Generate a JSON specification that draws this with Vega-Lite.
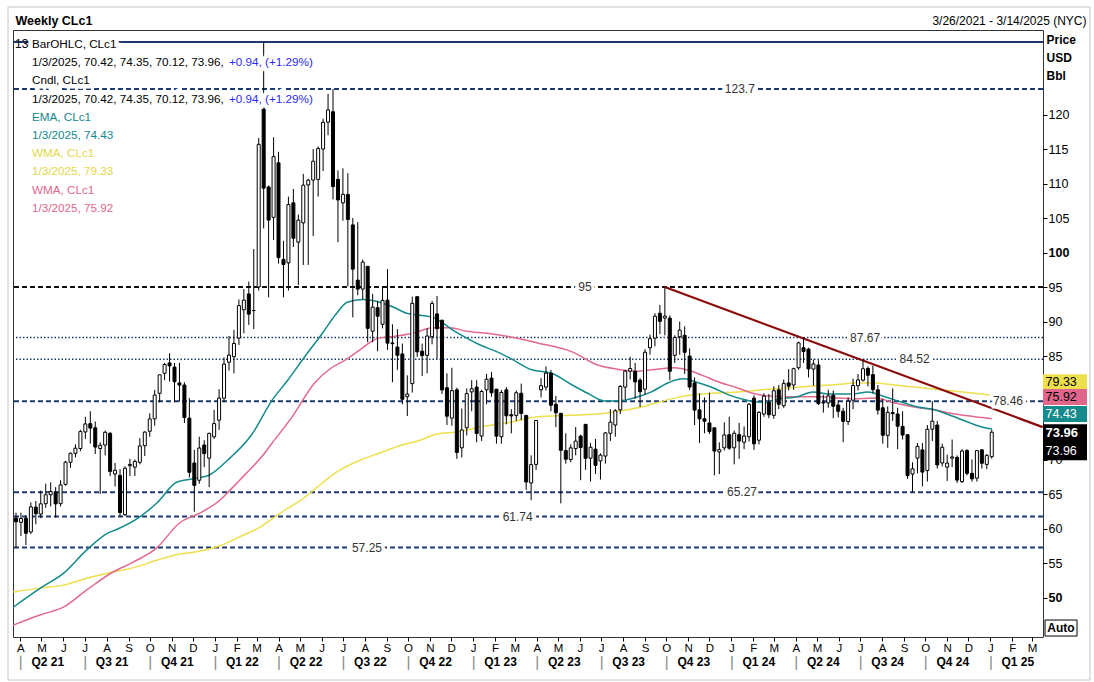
{
  "$schema": "https://vega.github.io/schema/vega-lite/v6.json",
  "width": 1030,
  "height": 607,
  "autosize": "none",
  "padding": {"left": 13, "top": 30, "right": 51, "bottom": 45},
  "background": "#ffffff",
  "config": {
    "view": {"stroke": "#333333", "strokeWidth": 1},
    "font": "Liberation Sans",
    "axis": {"labelFont": "Liberation Sans", "titleFont": "Liberation Sans", "labelColor": "#000000", "titleColor": "#000000", "grid": false, "domain": false, "labelFlush": false, "labelOverlap": false},
    "text": {"font": "Liberation Sans", "fontSize": 12}
  },
  "datasets": {
    "candles": [
      {"d":"2021-03-26","o":61.5,"h":62.3,"l":57.25,"c":60.97},
      {"d":"2021-04-02","o":60.9,"h":62.3,"l":58.9,"c":61.45},
      {"d":"2021-04-09","o":61.5,"h":61.9,"l":57.6,"c":59.32},
      {"d":"2021-04-16","o":59.5,"h":63.8,"l":59.2,"c":63.13},
      {"d":"2021-04-23","o":63.1,"h":64.0,"l":60.6,"c":62.14},
      {"d":"2021-04-30","o":62.1,"h":65.5,"l":61.5,"c":63.58},
      {"d":"2021-05-07","o":63.6,"h":66.5,"l":63.0,"c":64.90},
      {"d":"2021-05-14","o":64.9,"h":66.7,"l":63.2,"c":65.37},
      {"d":"2021-05-21","o":65.3,"h":66.0,"l":61.6,"c":63.58},
      {"d":"2021-05-28","o":63.6,"h":67.0,"l":63.2,"c":66.32},
      {"d":"2021-06-04","o":66.4,"h":69.8,"l":66.2,"c":69.62},
      {"d":"2021-06-11","o":69.6,"h":71.0,"l":68.8,"c":70.91},
      {"d":"2021-06-18","o":70.9,"h":72.2,"l":70.3,"c":71.64},
      {"d":"2021-06-25","o":71.6,"h":74.3,"l":71.2,"c":74.05},
      {"d":"2021-07-02","o":74.0,"h":76.2,"l":73.0,"c":75.16},
      {"d":"2021-07-09","o":75.2,"h":77.0,"l":72.3,"c":74.56},
      {"d":"2021-07-16","o":74.6,"h":75.5,"l":70.8,"c":71.81},
      {"d":"2021-07-23","o":71.6,"h":72.5,"l":65.0,"c":72.07},
      {"d":"2021-07-30","o":72.1,"h":74.2,"l":70.6,"c":73.95},
      {"d":"2021-08-06","o":73.8,"h":74.0,"l":67.6,"c":68.28},
      {"d":"2021-08-13","o":67.9,"h":69.5,"l":66.1,"c":68.44},
      {"d":"2021-08-20","o":67.7,"h":68.6,"l":61.74,"c":62.32},
      {"d":"2021-08-27","o":62.0,"h":69.0,"l":61.8,"c":68.74},
      {"d":"2021-09-03","o":69.1,"h":70.1,"l":67.6,"c":69.29},
      {"d":"2021-09-10","o":68.9,"h":70.0,"l":67.6,"c":69.72},
      {"d":"2021-09-17","o":69.6,"h":73.1,"l":69.3,"c":71.97},
      {"d":"2021-09-24","o":72.0,"h":74.1,"l":70.5,"c":73.98},
      {"d":"2021-10-01","o":74.1,"h":76.7,"l":73.3,"c":75.88},
      {"d":"2021-10-08","o":75.9,"h":80.1,"l":74.9,"c":79.35},
      {"d":"2021-10-15","o":79.6,"h":82.2,"l":78.3,"c":82.28},
      {"d":"2021-10-22","o":82.5,"h":84.0,"l":81.5,"c":83.76},
      {"d":"2021-10-29","o":84.0,"h":85.4,"l":81.3,"c":83.57},
      {"d":"2021-11-05","o":83.4,"h":84.0,"l":78.3,"c":81.27},
      {"d":"2021-11-12","o":81.1,"h":84.0,"l":78.4,"c":80.79},
      {"d":"2021-11-19","o":80.8,"h":81.2,"l":75.3,"c":76.10},
      {"d":"2021-11-26","o":76.0,"h":78.9,"l":67.4,"c":68.15},
      {"d":"2021-12-03","o":69.5,"h":71.4,"l":62.43,"c":66.26},
      {"d":"2021-12-10","o":67.0,"h":73.3,"l":66.5,"c":71.67},
      {"d":"2021-12-17","o":72.1,"h":72.8,"l":68.9,"c":70.86},
      {"d":"2021-12-24","o":70.2,"h":73.9,"l":66.0,"c":73.79},
      {"d":"2021-12-31","o":73.3,"h":77.2,"l":73.0,"c":75.21},
      {"d":"2022-01-07","o":75.7,"h":80.2,"l":74.3,"c":78.90},
      {"d":"2022-01-14","o":78.9,"h":84.8,"l":78.3,"c":83.82},
      {"d":"2022-01-21","o":84.1,"h":87.9,"l":82.9,"c":85.14},
      {"d":"2022-01-28","o":84.9,"h":88.8,"l":82.5,"c":86.82},
      {"d":"2022-02-04","o":87.6,"h":93.2,"l":86.6,"c":92.31},
      {"d":"2022-02-11","o":91.7,"h":94.7,"l":88.3,"c":93.10},
      {"d":"2022-02-18","o":94.0,"h":95.8,"l":89.5,"c":91.07},
      {"d":"2022-02-25","o":91.6,"h":100.5,"l":88.9,"c":91.59},
      {"d":"2022-03-04","o":95.0,"h":116.6,"l":94.5,"c":115.68},
      {"d":"2022-03-11","o":121.0,"h":130.5,"l":103.5,"c":109.33},
      {"d":"2022-03-18","o":109.5,"h":109.7,"l":93.5,"c":104.70},
      {"d":"2022-03-25","o":105.1,"h":116.7,"l":101.8,"c":113.90},
      {"d":"2022-04-01","o":113.0,"h":114.6,"l":98.4,"c":99.27},
      {"d":"2022-04-08","o":99.0,"h":101.7,"l":93.5,"c":98.26},
      {"d":"2022-04-15","o":98.5,"h":108.1,"l":94.5,"c":106.95},
      {"d":"2022-04-22","o":107.2,"h":109.2,"l":100.8,"c":102.07},
      {"d":"2022-04-29","o":101.5,"h":105.5,"l":95.3,"c":104.69},
      {"d":"2022-05-06","o":104.3,"h":111.4,"l":98.2,"c":109.77},
      {"d":"2022-05-13","o":109.8,"h":110.7,"l":98.2,"c":110.49},
      {"d":"2022-05-20","o":110.5,"h":115.0,"l":102.4,"c":113.23},
      {"d":"2022-05-27","o":110.6,"h":115.4,"l":108.1,"c":115.07},
      {"d":"2022-06-03","o":115.0,"h":119.4,"l":111.8,"c":118.87},
      {"d":"2022-06-10","o":118.9,"h":123.0,"l":117.0,"c":120.67},
      {"d":"2022-06-17","o":120.4,"h":123.68,"l":107.7,"c":109.56},
      {"d":"2022-06-24","o":110.6,"h":111.9,"l":101.5,"c":107.62},
      {"d":"2022-07-01","o":107.2,"h":112.2,"l":104.6,"c":108.43},
      {"d":"2022-07-08","o":108.4,"h":111.5,"l":95.1,"c":104.79},
      {"d":"2022-07-15","o":104.0,"h":105.0,"l":90.6,"c":97.59},
      {"d":"2022-07-22","o":96.0,"h":104.4,"l":93.8,"c":94.70},
      {"d":"2022-07-29","o":94.7,"h":99.0,"l":93.2,"c":98.62},
      {"d":"2022-08-05","o":98.0,"h":98.0,"l":87.0,"c":89.01},
      {"d":"2022-08-12","o":88.6,"h":94.0,"l":87.0,"c":92.09},
      {"d":"2022-08-19","o":92.0,"h":93.0,"l":85.7,"c":90.77},
      {"d":"2022-08-26","o":89.6,"h":95.0,"l":89.0,"c":93.06},
      {"d":"2022-09-02","o":93.1,"h":97.6,"l":85.9,"c":86.87},
      {"d":"2022-09-09","o":86.9,"h":89.6,"l":81.2,"c":86.79},
      {"d":"2022-09-16","o":86.3,"h":88.9,"l":83.0,"c":85.11},
      {"d":"2022-09-23","o":85.3,"h":86.8,"l":78.0,"c":78.74},
      {"d":"2022-09-30","o":79.1,"h":82.2,"l":76.3,"c":79.49},
      {"d":"2022-10-07","o":81.0,"h":93.6,"l":79.7,"c":92.64},
      {"d":"2022-10-14","o":93.6,"h":93.6,"l":84.9,"c":85.61},
      {"d":"2022-10-21","o":85.7,"h":86.8,"l":82.1,"c":85.05},
      {"d":"2022-10-28","o":85.1,"h":89.0,"l":82.5,"c":87.90},
      {"d":"2022-11-04","o":87.8,"h":93.0,"l":86.7,"c":92.61},
      {"d":"2022-11-11","o":91.1,"h":93.7,"l":84.6,"c":88.96},
      {"d":"2022-11-18","o":90.2,"h":90.2,"l":79.5,"c":80.08},
      {"d":"2022-11-25","o":80.4,"h":82.5,"l":75.0,"c":76.28},
      {"d":"2022-12-02","o":76.0,"h":83.3,"l":74.9,"c":79.98},
      {"d":"2022-12-09","o":80.1,"h":80.4,"l":70.1,"c":71.02},
      {"d":"2022-12-16","o":71.7,"h":77.4,"l":70.3,"c":74.29},
      {"d":"2022-12-23","o":74.6,"h":80.3,"l":73.5,"c":79.56},
      {"d":"2022-12-30","o":79.8,"h":81.5,"l":77.0,"c":80.26},
      {"d":"2023-01-06","o":80.5,"h":81.5,"l":72.5,"c":73.77},
      {"d":"2023-01-13","o":73.4,"h":80.1,"l":72.7,"c":79.86},
      {"d":"2023-01-20","o":80.1,"h":82.4,"l":78.0,"c":81.64},
      {"d":"2023-01-27","o":81.8,"h":82.7,"l":79.1,"c":79.68},
      {"d":"2023-02-03","o":80.2,"h":80.2,"l":72.3,"c":73.39},
      {"d":"2023-02-10","o":73.3,"h":80.1,"l":72.3,"c":79.72},
      {"d":"2023-02-17","o":80.1,"h":80.5,"l":75.1,"c":76.34},
      {"d":"2023-02-24","o":76.5,"h":77.3,"l":73.8,"c":76.32},
      {"d":"2023-03-03","o":76.4,"h":80.0,"l":75.6,"c":79.68},
      {"d":"2023-03-10","o":79.6,"h":81.0,"l":75.7,"c":76.68},
      {"d":"2023-03-17","o":76.4,"h":76.4,"l":65.6,"c":66.74},
      {"d":"2023-03-24","o":66.6,"h":70.6,"l":64.1,"c":69.26},
      {"d":"2023-03-31","o":69.3,"h":75.7,"l":68.5,"c":75.67},
      {"d":"2023-04-07","o":80.1,"h":81.8,"l":79.0,"c":80.70},
      {"d":"2023-04-14","o":80.5,"h":83.5,"l":80.0,"c":82.52},
      {"d":"2023-04-21","o":82.5,"h":83.0,"l":77.0,"c":77.87},
      {"d":"2023-04-28","o":78.0,"h":79.2,"l":74.7,"c":76.78},
      {"d":"2023-05-05","o":76.7,"h":76.7,"l":63.64,"c":71.34},
      {"d":"2023-05-12","o":71.3,"h":73.8,"l":69.4,"c":70.04},
      {"d":"2023-05-19","o":70.0,"h":72.2,"l":69.6,"c":71.69},
      {"d":"2023-05-26","o":71.6,"h":74.7,"l":70.6,"c":72.67},
      {"d":"2023-06-02","o":73.4,"h":73.6,"l":67.0,"c":71.74},
      {"d":"2023-06-09","o":75.1,"h":75.1,"l":68.5,"c":70.17},
      {"d":"2023-06-16","o":70.2,"h":72.4,"l":66.8,"c":71.78},
      {"d":"2023-06-23","o":71.5,"h":73.0,"l":67.9,"c":69.16},
      {"d":"2023-06-30","o":69.8,"h":70.9,"l":67.1,"c":70.64},
      {"d":"2023-07-07","o":70.5,"h":74.0,"l":69.4,"c":73.86},
      {"d":"2023-07-14","o":73.8,"h":77.3,"l":72.7,"c":75.42},
      {"d":"2023-07-21","o":75.0,"h":77.3,"l":73.3,"c":77.07},
      {"d":"2023-07-28","o":77.2,"h":80.8,"l":76.6,"c":80.58},
      {"d":"2023-08-04","o":80.5,"h":83.0,"l":78.7,"c":82.82},
      {"d":"2023-08-11","o":82.8,"h":84.9,"l":81.6,"c":83.19},
      {"d":"2023-08-18","o":82.8,"h":84.0,"l":78.8,"c":81.25},
      {"d":"2023-08-25","o":81.5,"h":81.8,"l":77.6,"c":79.83},
      {"d":"2023-09-01","o":80.2,"h":86.0,"l":79.4,"c":85.55},
      {"d":"2023-09-08","o":86.2,"h":88.1,"l":85.2,"c":87.51},
      {"d":"2023-09-15","o":87.6,"h":91.2,"l":86.4,"c":90.77},
      {"d":"2023-09-22","o":91.2,"h":92.4,"l":88.2,"c":90.03},
      {"d":"2023-09-29","o":90.5,"h":95.03,"l":88.0,"c":90.79},
      {"d":"2023-10-06","o":90.5,"h":90.9,"l":81.5,"c":82.79},
      {"d":"2023-10-13","o":85.1,"h":88.0,"l":84.0,"c":87.69},
      {"d":"2023-10-20","o":87.8,"h":90.0,"l":85.2,"c":88.75},
      {"d":"2023-10-27","o":88.0,"h":89.3,"l":82.4,"c":85.54},
      {"d":"2023-11-03","o":85.0,"h":86.1,"l":80.1,"c":80.51},
      {"d":"2023-11-10","o":81.1,"h":81.9,"l":75.0,"c":77.17},
      {"d":"2023-11-17","o":77.2,"h":79.6,"l":72.4,"c":75.89},
      {"d":"2023-11-24","o":75.9,"h":79.0,"l":73.8,"c":75.54},
      {"d":"2023-12-01","o":75.3,"h":79.7,"l":73.7,"c":74.07},
      {"d":"2023-12-08","o":74.6,"h":74.6,"l":67.71,"c":71.23},
      {"d":"2023-12-15","o":71.1,"h":72.5,"l":67.9,"c":71.43},
      {"d":"2023-12-22","o":71.7,"h":75.4,"l":71.3,"c":73.56},
      {"d":"2023-12-29","o":73.6,"h":76.2,"l":71.4,"c":71.65},
      {"d":"2024-01-05","o":71.7,"h":74.2,"l":69.3,"c":73.81},
      {"d":"2024-01-12","o":73.6,"h":75.3,"l":70.1,"c":72.68},
      {"d":"2024-01-19","o":72.5,"h":74.8,"l":71.5,"c":73.41},
      {"d":"2024-01-26","o":73.3,"h":78.2,"l":72.6,"c":78.01},
      {"d":"2024-02-02","o":78.9,"h":79.3,"l":71.4,"c":72.28},
      {"d":"2024-02-09","o":72.8,"h":77.0,"l":72.2,"c":76.84},
      {"d":"2024-02-16","o":76.6,"h":79.6,"l":76.2,"c":79.19},
      {"d":"2024-02-23","o":78.3,"h":79.5,"l":76.0,"c":76.49},
      {"d":"2024-03-01","o":76.4,"h":80.6,"l":75.9,"c":79.97},
      {"d":"2024-03-08","o":80.1,"h":80.8,"l":77.3,"c":78.01},
      {"d":"2024-03-15","o":77.8,"h":81.6,"l":77.5,"c":81.04},
      {"d":"2024-03-22","o":81.1,"h":83.1,"l":80.0,"c":80.63},
      {"d":"2024-03-29","o":80.8,"h":83.3,"l":80.1,"c":83.17},
      {"d":"2024-04-05","o":83.3,"h":87.1,"l":83.0,"c":86.91},
      {"d":"2024-04-12","o":86.2,"h":87.67,"l":84.0,"c":85.66},
      {"d":"2024-04-19","o":86.0,"h":86.2,"l":81.9,"c":83.14},
      {"d":"2024-04-26","o":83.1,"h":84.5,"l":80.7,"c":83.85},
      {"d":"2024-05-03","o":83.7,"h":84.4,"l":77.9,"c":78.11},
      {"d":"2024-05-10","o":78.2,"h":79.4,"l":76.8,"c":78.26},
      {"d":"2024-05-17","o":78.2,"h":80.1,"l":77.5,"c":79.23},
      {"d":"2024-05-24","o":79.3,"h":80.0,"l":76.0,"c":77.72},
      {"d":"2024-05-31","o":77.9,"h":78.6,"l":76.1,"c":76.99},
      {"d":"2024-06-07","o":77.0,"h":77.5,"l":72.5,"c":75.53},
      {"d":"2024-06-14","o":75.5,"h":79.0,"l":75.0,"c":78.45},
      {"d":"2024-06-21","o":78.6,"h":81.7,"l":77.3,"c":80.73},
      {"d":"2024-06-28","o":80.7,"h":82.4,"l":80.0,"c":81.54},
      {"d":"2024-07-05","o":81.5,"h":84.52,"l":81.3,"c":83.16},
      {"d":"2024-07-12","o":83.2,"h":83.5,"l":80.6,"c":82.21},
      {"d":"2024-07-19","o":82.3,"h":83.6,"l":79.6,"c":80.13},
      {"d":"2024-07-26","o":80.1,"h":80.8,"l":76.5,"c":77.16},
      {"d":"2024-08-02","o":77.5,"h":78.8,"l":72.3,"c":73.52},
      {"d":"2024-08-09","o":73.5,"h":77.7,"l":71.7,"c":76.84},
      {"d":"2024-08-16","o":76.8,"h":80.3,"l":75.6,"c":76.65},
      {"d":"2024-08-23","o":76.6,"h":77.5,"l":71.5,"c":74.83},
      {"d":"2024-08-30","o":74.8,"h":77.0,"l":72.9,"c":73.55},
      {"d":"2024-09-06","o":73.6,"h":73.6,"l":67.2,"c":67.67},
      {"d":"2024-09-13","o":67.9,"h":69.6,"l":65.27,"c":68.65},
      {"d":"2024-09-20","o":70.2,"h":72.4,"l":68.0,"c":71.92},
      {"d":"2024-09-27","o":71.4,"h":72.4,"l":66.1,"c":68.18},
      {"d":"2024-10-04","o":68.4,"h":75.0,"l":66.8,"c":74.38},
      {"d":"2024-10-11","o":74.4,"h":78.46,"l":72.7,"c":75.56},
      {"d":"2024-10-18","o":75.0,"h":75.6,"l":68.7,"c":69.22},
      {"d":"2024-10-25","o":69.5,"h":72.3,"l":69.0,"c":71.78},
      {"d":"2024-11-01","o":68.9,"h":70.7,"l":66.9,"c":69.49},
      {"d":"2024-11-08","o":70.2,"h":72.9,"l":68.9,"c":70.38},
      {"d":"2024-11-15","o":70.3,"h":70.6,"l":66.6,"c":67.02},
      {"d":"2024-11-22","o":66.8,"h":71.5,"l":66.6,"c":71.24},
      {"d":"2024-11-29","o":71.3,"h":71.5,"l":67.7,"c":68.00},
      {"d":"2024-12-06","o":68.0,"h":70.0,"l":66.8,"c":67.20},
      {"d":"2024-12-13","o":67.3,"h":71.4,"l":66.8,"c":71.29},
      {"d":"2024-12-20","o":71.4,"h":71.5,"l":68.7,"c":69.46},
      {"d":"2024-12-27","o":69.3,"h":70.8,"l":68.6,"c":70.60},
      {"d":"2025-01-03","o":70.42,"h":74.35,"l":70.12,"c":73.96}
    ],
    "ema": [
      {"d":"2021-03-22","v":48.6},{"d":"2021-04-30","v":51.4},{"d":"2021-06-01","v":53.5},{"d":"2021-07-04","v":56.9},{"d":"2021-08-02","v":59.3},{"d":"2021-08-16","v":59.9},{"d":"2021-09-17","v":61.7},{"d":"2021-10-11","v":63.7},{"d":"2021-11-08","v":66.7},{"d":"2021-12-01","v":67.2},{"d":"2021-12-25","v":67.8},{"d":"2022-01-19","v":69.9},{"d":"2022-02-22","v":73.6},{"d":"2022-03-23","v":78.6},{"d":"2022-04-14","v":81.5},{"d":"2022-05-08","v":84.9},{"d":"2022-06-02","v":88.3},{"d":"2022-06-20","v":90.9},{"d":"2022-07-07","v":92.8},{"d":"2022-07-29","v":93.2},{"d":"2022-08-22","v":92.8},{"d":"2022-09-10","v":92.1},{"d":"2022-09-29","v":91.2},{"d":"2022-10-18","v":90.9},{"d":"2022-11-05","v":90.6},{"d":"2022-11-19","v":89.8},{"d":"2022-12-03","v":88.8},{"d":"2022-12-23","v":87.6},{"d":"2023-01-11","v":86.6},{"d":"2023-02-04","v":85.6},{"d":"2023-02-22","v":84.7},{"d":"2023-03-25","v":83.0},{"d":"2023-04-22","v":82.5},{"d":"2023-05-21","v":80.8},{"d":"2023-06-12","v":79.6},{"d":"2023-07-06","v":78.5},{"d":"2023-07-24","v":78.5},{"d":"2023-08-22","v":79.1},{"d":"2023-09-10","v":79.8},{"d":"2023-09-29","v":80.9},{"d":"2023-10-13","v":81.5},{"d":"2023-10-27","v":81.7},{"d":"2023-11-13","v":81.2},{"d":"2023-12-06","v":80.4},{"d":"2023-12-30","v":79.3},{"d":"2024-01-23","v":78.6},{"d":"2024-02-14","v":78.3},{"d":"2024-03-09","v":78.8},{"d":"2024-04-03","v":79.1},{"d":"2024-04-25","v":79.8},{"d":"2024-05-19","v":79.5},{"d":"2024-06-20","v":79.5},{"d":"2024-07-12","v":79.8},{"d":"2024-08-05","v":79.1},{"d":"2024-08-29","v":78.3},{"d":"2024-09-21","v":77.6},{"d":"2024-10-14","v":77.2},{"d":"2024-11-08","v":76.3},{"d":"2024-12-01","v":75.4},{"d":"2024-12-20","v":74.7},{"d":"2025-01-03","v":74.43}
    ],
    "wmaPink": [
      {"d":"2021-03-22","v":46.0},{"d":"2021-04-30","v":47.5},{"d":"2021-06-01","v":48.6},{"d":"2021-07-04","v":51.1},{"d":"2021-08-10","v":53.7},{"d":"2021-09-07","v":55.1},{"d":"2021-10-11","v":57.2},{"d":"2021-11-12","v":60.8},{"d":"2021-12-10","v":62.2},{"d":"2022-01-08","v":64.1},{"d":"2022-01-19","v":65.2},{"d":"2022-02-05","v":67.0},{"d":"2022-02-22","v":68.8},{"d":"2022-03-09","v":70.5},{"d":"2022-03-23","v":72.4},{"d":"2022-04-19","v":76.0},{"d":"2022-05-22","v":81.1},{"d":"2022-06-15","v":83.3},{"d":"2022-07-04","v":84.4},{"d":"2022-07-25","v":85.9},{"d":"2022-08-18","v":87.5},{"d":"2022-09-15","v":87.9},{"d":"2022-10-08","v":88.3},{"d":"2022-11-05","v":89.1},{"d":"2022-11-29","v":89.1},{"d":"2022-12-23","v":88.6},{"d":"2023-01-21","v":88.3},{"d":"2023-02-22","v":87.8},{"d":"2023-04-02","v":86.9},{"d":"2023-05-21","v":85.6},{"d":"2023-06-26","v":83.7},{"d":"2023-07-24","v":83.1},{"d":"2023-08-22","v":82.8},{"d":"2023-09-18","v":83.1},{"d":"2023-10-13","v":83.3},{"d":"2023-10-30","v":83.0},{"d":"2023-11-21","v":82.2},{"d":"2023-12-15","v":81.2},{"d":"2024-01-09","v":80.4},{"d":"2024-01-31","v":79.6},{"d":"2024-02-24","v":79.2},{"d":"2024-03-20","v":79.1},{"d":"2024-04-11","v":79.1},{"d":"2024-05-05","v":79.1},{"d":"2024-06-02","v":78.9},{"d":"2024-06-23","v":78.8},{"d":"2024-07-21","v":78.9},{"d":"2024-08-19","v":78.2},{"d":"2024-09-16","v":77.6},{"d":"2024-10-14","v":77.2},{"d":"2024-11-12","v":76.6},{"d":"2024-12-10","v":76.2},{"d":"2025-01-03","v":75.92}
    ],
    "wmaYellow": [
      {"d":"2021-03-22","v":50.8},{"d":"2021-04-30","v":51.4},{"d":"2021-06-01","v":51.8},{"d":"2021-07-04","v":52.8},{"d":"2021-08-06","v":53.6},{"d":"2021-09-07","v":54.3},{"d":"2021-10-11","v":55.4},{"d":"2021-11-12","v":56.3},{"d":"2021-12-10","v":56.7},{"d":"2022-01-08","v":57.5},{"d":"2022-02-05","v":58.8},{"d":"2022-03-06","v":60.2},{"d":"2022-04-03","v":62.2},{"d":"2022-05-01","v":64.0},{"d":"2022-06-27","v":68.5},{"d":"2022-07-25","v":69.9},{"d":"2022-08-26","v":71.1},{"d":"2022-09-19","v":72.0},{"d":"2022-10-18","v":72.8},{"d":"2022-11-11","v":73.7},{"d":"2022-12-09","v":74.0},{"d":"2023-01-11","v":74.7},{"d":"2023-02-22","v":75.4},{"d":"2023-04-02","v":76.2},{"d":"2023-05-21","v":76.4},{"d":"2023-07-06","v":76.7},{"d":"2023-08-22","v":77.5},{"d":"2023-10-13","v":78.9},{"d":"2023-11-03","v":79.3},{"d":"2023-12-02","v":79.6},{"d":"2024-01-09","v":79.8},{"d":"2024-02-14","v":80.1},{"d":"2024-03-24","v":80.4},{"d":"2024-05-01","v":80.7},{"d":"2024-06-02","v":80.9},{"d":"2024-06-23","v":81.1},{"d":"2024-07-21","v":81.1},{"d":"2024-08-19","v":80.8},{"d":"2024-09-16","v":80.5},{"d":"2024-10-14","v":80.2},{"d":"2024-11-12","v":79.9},{"d":"2024-12-10","v":79.6},{"d":"2025-01-03","v":79.33}
    ],
    "trend": [
      {"d":"2023-09-28","v":95.03},{"d":"2025-03-16","v":74.7}
    ],
    "levels": [
      {"level":130.5,"kind":"solid"},
      {"level":123.7,"kind":"dash","label":"123.7","at":"2024-01-13"},
      {"level":95,"kind":"black","label":"95","at":"2023-06-08"},
      {"level":87.67,"kind":"dot","label":"87.67","at":"2024-07-08"},
      {"level":84.52,"kind":"dot","label":"84.52","at":"2024-09-16"},
      {"level":78.46,"kind":"dash","label":"78.46","at":"2025-01-26"},
      {"level":65.27,"kind":"dash","label":"65.27","at":"2024-01-16"},
      {"level":61.74,"kind":"dash","label":"61.74","at":"2023-03-05"},
      {"level":57.25,"kind":"dash","label":"57.25","at":"2022-08-04"}
    ],
    "tags": [
      {"s":"wy","v":79.33},{"s":"wp","v":75.92},{"s":"ema","v":74.43},{"s":"bar","v":73.96},{"s":"cndl","v":73.96}
    ],
    "legend": [
      {"line":1,"part":"a","grp":"k","text":"BarOHLC, CLc1"},
      {"line":2,"part":"a","grp":"k","text":"1/3/2025, 70.42, 74.35, 70.12, 73.96,"},
      {"line":2,"part":"b","grp":"b","text":"+0.94, (+1.29%)"},
      {"line":3,"part":"a","grp":"k","text":"Cndl, CLc1"},
      {"line":4,"part":"a","grp":"k","text":"1/3/2025, 70.42, 74.35, 70.12, 73.96,"},
      {"line":4,"part":"b","grp":"b","text":"+0.94, (+1.29%)"},
      {"line":5,"part":"a","grp":"ema","text":"EMA, CLc1"},
      {"line":6,"part":"a","grp":"ema","text":"1/3/2025, 74.43"},
      {"line":7,"part":"a","grp":"wy","text":"WMA, CLc1"},
      {"line":8,"part":"a","grp":"wy","text":"1/3/2025, 79.33"},
      {"line":9,"part":"a","grp":"wp","text":"WMA, CLc1"},
      {"line":10,"part":"a","grp":"wp","text":"1/3/2025, 75.92"}
    ]
  },
  "layer": [
    {
      "data": {"values": [{}]},
      "mark": {"type": "rect", "filled": false, "stroke": "#c4c4c4", "strokeWidth": 1, "clip": false},
      "encoding": {
        "x": {"datum": 1615739067960, "type": "temporal", "axis": null},
        "x2": {"datum": 1747858201416},
        "y": {"datum": 135.58, "type": "quantitative"},
        "y2": {"datum": 38.04}
      }
    },
    {
      "data": {"name": "levels"},
      "transform": [{"filter": "datum.kind == 'solid'"}],
      "mark": {"type": "rule", "stroke": "#1c3a70", "strokeWidth": 2},
      "encoding": {"y": {"field": "level", "type": "quantitative"}}
    },
    {
      "data": {"name": "levels"},
      "transform": [{"filter": "datum.kind == 'dash'"}],
      "mark": {"type": "rule", "stroke": "#1c3a70", "strokeWidth": 2, "strokeDash": [5, 3]},
      "encoding": {"y": {"field": "level", "type": "quantitative"}}
    },
    {
      "data": {"name": "levels"},
      "transform": [{"filter": "datum.kind == 'black'"}],
      "mark": {"type": "rule", "stroke": "#111111", "strokeWidth": 2, "strokeDash": [5, 3]},
      "encoding": {"y": {"field": "level", "type": "quantitative"}}
    },
    {
      "data": {"name": "levels"},
      "transform": [{"filter": "datum.kind == 'dot'"}],
      "mark": {"type": "rule", "stroke": "#1c3a70", "strokeWidth": 1.5, "strokeDash": [1.5, 2]},
      "encoding": {"y": {"field": "level", "type": "quantitative"}}
    },
    {
      "data": {"name": "wmaYellow"},
      "mark": {"type": "line", "stroke": "#ece04c", "strokeWidth": 1.5, "interpolate": "monotone", "clip": true},
      "encoding": {
        "x": {"field": "d", "type": "temporal", "axis": {"orient": "top", "labels": false, "ticks": false, "domain": false, "title": "3/26/2021 - 3/14/2025 (NYC)", "titleX": 1073, "titleY": -10, "titleAlign": "right", "titleBaseline": "middle", "titleFontWeight": "normal", "titleFontSize": 12, "titleAnchor": "end"}},
        "y": {"field": "v", "type": "quantitative"}
      }
    },
    {
      "data": {"name": "wmaPink"},
      "mark": {"type": "line", "stroke": "#e3698d", "strokeWidth": 1.5, "interpolate": "monotone", "clip": true},
      "encoding": {
        "x": {"field": "d", "type": "temporal", "axis": {"orient": "top", "labels": false, "ticks": false, "domain": false, "title": "Weekly CLc1", "titleX": 2, "titleY": -10, "titleAlign": "left", "titleBaseline": "middle", "titleFontWeight": "bold", "titleFontSize": 12.5, "titleAnchor": "start"}},
        "y": {"field": "v", "type": "quantitative"}
      }
    },
    {
      "data": {"name": "ema"},
      "mark": {"type": "line", "stroke": "#138a8c", "strokeWidth": 1.5, "interpolate": "monotone", "clip": true},
      "encoding": {
        "x": {"field": "d", "type": "temporal", "axis": {"orient": "bottom", "tickCount": {"interval": "month", "step": 3}, "labelExpr": "'|'", "ticks": false, "tickSize": 0, "labelPadding": 17, "labelFontSize": 15, "labelColor": "#888888", "title": null, "domain": false}},
        "y": {"field": "v", "type": "quantitative"}
      }
    },
    {
      "data": {"name": "trend"},
      "mark": {"type": "line", "stroke": "#8b0a0a", "strokeWidth": 2.2},
      "encoding": {
        "x": {"field": "d", "type": "temporal", "axis": null},
        "y": {"field": "v", "type": "quantitative", "scale": {"domain": [44.28, 132.25], "nice": false, "zero": false}, "axis": {"orient": "right", "values": [50, 55, 60, 65, 70, 85, 90, 95, 100, 105, 110, 115, 120], "tickSize": 4, "tickColor": "#000000", "ticks": true, "labels": true, "labelPadding": 1, "labelFontSize": 12.5, "labelFontWeight": {"condition": {"test": "datum.value === 100 || datum.value === 50", "value": "bold"}, "value": "normal"}, "title": ["Price", "USD", "Bbl"], "titleAngle": 0, "titleAlign": "left", "titleBaseline": "top", "titleX": 3, "titleY": 4, "titleFontWeight": "bold", "titleFontSize": 12, "titleLineHeight": 18, "domain": false, "grid": false, "zindex": 0}}
      }
    },
    {
      "data": {"name": "candles"},
      "mark": {"type": "rule", "stroke": "#000000", "strokeWidth": 1},
      "encoding": {
        "x": {"field": "d", "type": "temporal", "scale": {"domain": [1616349600000, 1742119200000], "nice": false, "padding": 0}, "axis": {"orient": "bottom", "tickCount": {"interval": "month", "step": 1}, "labelExpr": "substring(timeFormat(datum.value, '%b'), 0, 1)", "tickSize": 4, "tickColor": "#000000", "labelPadding": 1, "labelFontSize": 11.5, "title": null, "domain": false}},
        "y": {"field": "l", "type": "quantitative", "scale": {"domain": [44.28, 132.25], "nice": false, "zero": false}},
        "y2": {"field": "h"}
      }
    },
    {
      "data": {"name": "candles"},
      "mark": {"type": "bar", "width": 3, "stroke": "#000000", "strokeWidth": 1},
      "encoding": {
        "x": {"field": "d", "type": "temporal", "scale": {"padding": 0}, "axis": {"orient": "bottom", "tickCount": {"interval": "month", "step": 3}, "labelExpr": "'Q' + (floor(month(datum.value) / 3) + 1) + ' ' + timeFormat(datum.value, '%y')", "ticks": false, "tickSize": 0, "labelPadding": 19, "labelOffset": 27, "labelFontWeight": "bold", "labelFontSize": 12, "title": null, "domain": false}},
        "y": {"field": "o", "type": "quantitative"},
        "y2": {"field": "c"},
        "fill": {"condition": {"test": "datum.c >= datum.o", "value": "#ffffff"}, "value": "#000000"}
      }
    },
    {
      "data": {"name": "levels"},
      "transform": [{"filter": "isValid(datum.label)"}],
      "mark": {"type": "text", "fontSize": 12, "align": "center", "baseline": "middle", "fill": "#ffffff", "stroke": "#ffffff", "strokeWidth": 7, "clip": false},
      "encoding": {
        "x": {"field": "at", "type": "temporal", "axis": null},
        "y": {"field": "level", "type": "quantitative"},
        "text": {"field": "label"}
      }
    },
    {
      "data": {"name": "levels"},
      "transform": [{"filter": "isValid(datum.label)"}],
      "mark": {"type": "text", "fontSize": 12, "align": "center", "baseline": "middle", "fill": "#333333", "clip": false},
      "encoding": {
        "x": {"field": "at", "type": "temporal", "axis": null},
        "y": {"field": "level", "type": "quantitative"},
        "text": {"field": "label"}
      }
    },
    {
      "data": {"name": "tags"},
      "transform": [{"filter": "datum.s == 'wy'"}],
      "mark": {"type": "rect", "fill": "#ede04c", "clip": false, "yOffset": -21, "y2Offset": -6},
      "encoding": {"x": {"datum": 1742119200000, "type": "temporal", "axis": null}, "x2": {"datum": 1747491882000}, "y": {"field": "v", "type": "quantitative"}, "y2": {"field": "v"}}
    },
    {
      "data": {"name": "tags"},
      "transform": [{"filter": "datum.s == 'wp'"}],
      "mark": {"type": "rect", "fill": "#e0668b", "clip": false, "yOffset": -29.7, "y2Offset": -13.7},
      "encoding": {"x": {"datum": 1742119200000, "type": "temporal", "axis": null}, "x2": {"datum": 1747491882000}, "y": {"field": "v", "type": "quantitative"}, "y2": {"field": "v"}}
    },
    {
      "data": {"name": "tags"},
      "transform": [{"filter": "datum.s == 'ema'"}],
      "mark": {"type": "rect", "fill": "#138a8c", "clip": false, "yOffset": -23, "y2Offset": -7},
      "encoding": {"x": {"datum": 1742119200000, "type": "temporal", "axis": null}, "x2": {"datum": 1747491882000}, "y": {"field": "v", "type": "quantitative"}, "y2": {"field": "v"}}
    },
    {
      "data": {"name": "tags"},
      "transform": [{"filter": "datum.s == 'bar'"}],
      "mark": {"type": "rect", "fill": "#000000", "clip": false, "yOffset": -8, "y2Offset": 28},
      "encoding": {"x": {"datum": 1742119200000, "type": "temporal", "axis": null}, "x2": {"datum": 1747491882000}, "y": {"field": "v", "type": "quantitative"}, "y2": {"field": "v"}}
    },
    {
      "data": {"name": "tags"},
      "transform": [{"filter": "datum.s == 'wy'"}],
      "mark": {"type": "text", "align": "left", "baseline": "middle", "fontSize": 12.5, "fill": "#000000", "clip": false, "yOffset": -13.6},
      "encoding": {"x": {"datum": 1742424466000, "type": "temporal", "axis": null}, "y": {"field": "v", "type": "quantitative"}, "text": {"field": "v", "type": "quantitative", "format": ".2f"}}
    },
    {
      "data": {"name": "tags"},
      "transform": [{"filter": "datum.s == 'wp'"}],
      "mark": {"type": "text", "align": "left", "baseline": "middle", "fontSize": 12.5, "fill": "#000000", "clip": false, "yOffset": -21.7},
      "encoding": {"x": {"datum": 1742424466000, "type": "temporal", "axis": null}, "y": {"field": "v", "type": "quantitative"}, "text": {"field": "v", "type": "quantitative", "format": ".2f"}}
    },
    {
      "data": {"name": "tags"},
      "transform": [{"filter": "datum.s == 'ema'"}],
      "mark": {"type": "text", "align": "left", "baseline": "middle", "fontSize": 12.5, "fill": "#ffffff", "clip": false, "yOffset": -15},
      "encoding": {"x": {"datum": 1742424466000, "type": "temporal", "axis": null}, "y": {"field": "v", "type": "quantitative"}, "text": {"field": "v", "type": "quantitative", "format": ".2f"}}
    },
    {
      "data": {"name": "tags"},
      "transform": [{"filter": "datum.s == 'bar'"}],
      "mark": {"type": "text", "align": "left", "baseline": "middle", "fontSize": 13, "fontWeight": "bold", "fill": "#ffffff", "clip": false, "yOffset": 1},
      "encoding": {"x": {"datum": 1742424466000, "type": "temporal", "axis": null}, "y": {"field": "v", "type": "quantitative"}, "text": {"field": "v", "type": "quantitative", "format": ".2f"}}
    },
    {
      "data": {"name": "tags"},
      "transform": [{"filter": "datum.s == 'cndl'"}],
      "mark": {"type": "text", "align": "left", "baseline": "middle", "fontSize": 12.5, "fill": "#ffffff", "clip": false, "yOffset": 19},
      "encoding": {"x": {"datum": 1742424466000, "type": "temporal", "axis": null}, "y": {"field": "v", "type": "quantitative"}, "text": {"field": "v", "type": "quantitative", "format": ".2f"}}
    },
    {
      "data": {"values": [{}]},
      "mark": {"type": "rect", "fill": "#ffffff", "stroke": "#000000", "strokeWidth": 1, "clip": false},
      "encoding": {"x": {"datum": 1742363413000, "type": "temporal", "axis": null}, "x2": {"datum": 1746270818000}, "y": {"datum": 46.74, "type": "quantitative"}, "y2": {"datum": 44.42}}
    },
    {
      "data": {"values": [{}]},
      "mark": {"type": "text", "text": "Auto", "fontSize": 12, "fontWeight": "bold", "align": "center", "baseline": "middle", "fill": "#000000", "clip": false},
      "encoding": {"x": {"datum": 1744317115344, "type": "temporal", "axis": null}, "y": {"datum": 45.58, "type": "quantitative"}}
    },
    {
      "data": {"values": [{"text": "130"}]},
      "mark": {"type": "text", "align": "left", "baseline": "middle", "fontSize": 12, "fill": "#000000", "clip": false},
      "encoding": {
        "x": {"datum": 1616593812816, "type": "temporal", "axis": null},
        "y": {"datum": 130.22, "type": "quantitative"},
        "text": {"field": "text"}
      }
    },
    {
      "data": {"name": "legend"},
      "transform": [{"filter": "datum.part == 'a'"}],
      "mark": {"type": "text", "align": "left", "baseline": "middle", "fontSize": 11.7, "fill": "#ffffff", "stroke": "#ffffff", "strokeWidth": 9, "clip": false},
      "encoding": {
        "x": {"datum": 1618669621752, "type": "temporal", "axis": null},
        "y": {"datum": 130.22, "type": "quantitative"},
        "yOffset": {"field": "line", "type": "quantitative", "scale": {"domain": [1, 10], "range": [0, 163.8]}},
        "text": {"field": "text"}
      }
    },
    {
      "data": {"name": "legend"},
      "transform": [{"filter": "datum.part == 'b'"}],
      "mark": {"type": "text", "align": "left", "baseline": "middle", "fontSize": 11.7, "fill": "#ffffff", "stroke": "#ffffff", "strokeWidth": 9, "clip": false},
      "encoding": {
        "x": {"datum": 1642724584128, "type": "temporal", "axis": null},
        "y": {"datum": 130.22, "type": "quantitative"},
        "yOffset": {"field": "line", "type": "quantitative", "scale": {"domain": [1, 10], "range": [0, 163.8]}},
        "text": {"field": "text"}
      }
    },
    {
      "data": {"name": "legend"},
      "transform": [{"filter": "datum.part == 'a'"}],
      "mark": {"type": "text", "align": "left", "baseline": "middle", "fontSize": 11.7, "clip": false},
      "encoding": {
        "x": {"datum": 1618669621752, "type": "temporal", "axis": null},
        "y": {"datum": 130.22, "type": "quantitative"},
        "yOffset": {"field": "line", "type": "quantitative", "scale": {"domain": [1, 10], "range": [0, 163.8]}},
        "text": {"field": "text"},
        "color": {"field": "grp", "type": "nominal", "scale": {"domain": ["k", "b", "ema", "wy", "wp"], "range": ["#000000", "#2a2aff", "#138a8c", "#e4d64a", "#e0688c"]}, "legend": null}
      }
    },
    {
      "data": {"name": "legend"},
      "transform": [{"filter": "datum.part == 'b'"}],
      "mark": {"type": "text", "align": "left", "baseline": "middle", "fontSize": 11.7, "clip": false},
      "encoding": {
        "x": {"datum": 1642724584128, "type": "temporal", "axis": null},
        "y": {"datum": 130.22, "type": "quantitative"},
        "yOffset": {"field": "line", "type": "quantitative", "scale": {"domain": [1, 10], "range": [0, 163.8]}},
        "text": {"field": "text"},
        "color": {"field": "grp", "type": "nominal", "legend": null}
      }
    }
  ],
  "resolve": {"axis": {"x": "independent"}}
}
